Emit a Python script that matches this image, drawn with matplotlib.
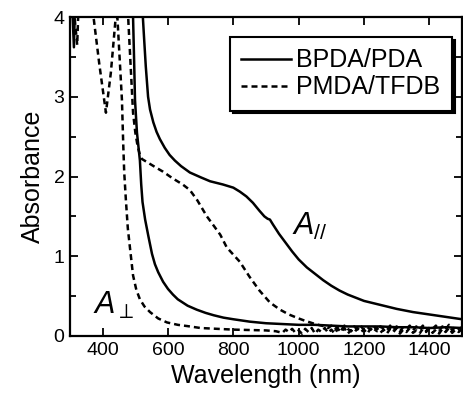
import matplotlib
matplotlib.use("Agg")
import matplotlib.pyplot as plt
from matplotlib.ticker import MultipleLocator

plt.rcParams['font.family'] = ['Liberation Sans', 'DejaVu Sans']
plt.rcParams['mathtext.fontset'] = 'custom'
plt.rcParams['mathtext.rm'] = 'Liberation Sans'
plt.rcParams['mathtext.it'] = 'Liberation Sans:italic'

# ---- data ----
# BPDA/PDA, parallel (solid, upper)
bp_par_wl = [300, 306, 312, 318, 500, 523, 527, 532, 539, 545, 555, 565, 575, 590, 605, 621, 640,
             667, 700, 729, 768, 800, 820, 840, 860, 880, 895, 905, 912, 921, 940, 960, 980, 1000,
             1025, 1050, 1075, 1100, 1125, 1150, 1175, 1200, 1250, 1300, 1350, 1400, 1450, 1500]
bp_par_abs = [4.6, 4.2, 3.62, 4.6, 4.6, 4.0, 3.72, 3.38, 3.0, 2.84, 2.68, 2.56, 2.47, 2.36, 2.27, 2.2, 2.13,
              2.05, 1.99, 1.94, 1.9, 1.86, 1.81, 1.75, 1.67, 1.57, 1.5, 1.47, 1.46, 1.4, 1.28, 1.17, 1.06, 0.96,
              0.86, 0.78, 0.7, 0.63, 0.57, 0.52, 0.48, 0.44, 0.39, 0.34, 0.3, 0.27, 0.24, 0.21]

# BPDA/PDA, perpendicular (solid, lower)
bp_perp_wl = [300, 480, 493, 496, 499, 505, 514, 518, 522, 530, 540, 551, 560, 570, 585, 600, 615,
              630, 645, 660, 688, 715, 740, 770, 800, 850, 900, 950, 1000, 1050, 1100, 1150, 1200,
              1250, 1300, 1350, 1400, 1450, 1500]
bp_perp_abs = [4.6, 4.6, 4.0, 3.5, 2.96, 2.55, 2.2, 1.9, 1.68, 1.46, 1.25, 1.03, 0.9, 0.8, 0.68, 0.59, 0.52,
               0.46, 0.42, 0.38, 0.33, 0.29, 0.26, 0.23, 0.21, 0.18, 0.16, 0.15, 0.14, 0.14, 0.13, 0.12, 0.12,
               0.12, 0.11, 0.11, 0.1, 0.11, 0.1]

# PMDA/TFDB, parallel (dashed, upper)
pm_par_wl = [300, 314, 322, 330, 470, 478, 493, 500, 507, 514, 520, 540, 560, 585, 606, 625, 645,
             667, 690, 719, 737, 760, 780, 800, 820, 850, 880, 912, 943, 970, 1000, 1020, 1043, 1060,
             1080, 1090, 1100, 1110, 1120, 1130, 1140, 1150, 1160, 1170, 1180, 1190, 1200, 1210,
             1220, 1230, 1240, 1250, 1260, 1270, 1280, 1290, 1300, 1310, 1320, 1330, 1340, 1350,
             1360, 1370, 1380, 1390, 1400, 1410, 1420, 1430, 1440, 1450, 1460, 1470, 1480, 1490,
             1500]
pm_par_abs = [4.6, 4.0, 3.65, 4.6, 4.6, 4.0, 2.8, 2.55, 2.38, 2.27, 2.22, 2.17, 2.12, 2.06, 2.0, 1.95, 1.9,
              1.83, 1.7, 1.5, 1.4, 1.27, 1.11, 1.02, 0.93, 0.74, 0.57, 0.42, 0.33, 0.27, 0.22, 0.19, 0.16, 0.14,
              0.12, 0.1, 0.13, 0.08, 0.12, 0.07, 0.13, 0.09, 0.06, 0.12, 0.08, 0.13, 0.07, 0.11,
              0.08, 0.13, 0.06, 0.12, 0.09, 0.07, 0.13, 0.08, 0.12, 0.06, 0.11, 0.09, 0.13, 0.07,
              0.12, 0.08, 0.13, 0.06, 0.11, 0.09, 0.13, 0.07, 0.12, 0.08, 0.14, 0.07, 0.12, 0.09,
              0.11]

# PMDA/TFDB, perpendicular (dashed, lower)
pm_perp_wl = [300, 360, 372, 390, 410, 425, 440, 445, 459, 463, 466, 471, 477, 484, 493, 503, 514,
              528, 545, 570, 597, 630, 658, 700, 750, 800, 850, 900, 930, 950, 960, 970, 980, 990,
              1000, 1010, 1020, 1030, 1040, 1050, 1060, 1070, 1080, 1090, 1100, 1110, 1120, 1130,
              1140, 1150, 1160, 1170, 1180, 1190, 1200, 1210, 1220, 1230, 1240, 1250, 1260, 1270,
              1280, 1290, 1300, 1310, 1320, 1330, 1340, 1350, 1360, 1370, 1380, 1390, 1400, 1410,
              1420, 1430, 1440, 1450, 1460, 1470, 1480, 1490, 1500]
pm_perp_abs = [4.6, 4.6, 4.0, 3.4, 2.8, 3.3, 4.0, 4.0, 2.96, 2.4, 2.05, 1.71, 1.35, 1.09, 0.76, 0.58, 0.46,
               0.37, 0.3, 0.22, 0.17, 0.14, 0.125, 0.1, 0.09, 0.08, 0.075, 0.07, 0.06, 0.04, 0.08, 0.05, 0.09,
               0.04, 0.07, 0.03, 0.09, 0.05, 0.1, 0.03, 0.08, 0.05, 0.1, 0.04, 0.08, 0.03, 0.09, 0.05,
               0.1, 0.03, 0.07, 0.04, 0.1, 0.05, 0.08, 0.03, 0.09, 0.05, 0.1, 0.04, 0.08, 0.03,
               0.09, 0.05, 0.1, 0.03, 0.08, 0.05, 0.1, 0.04, 0.07, 0.03, 0.09, 0.05, 0.1, 0.04,
               0.08, 0.03, 0.09, 0.05, 0.1, 0.04, 0.08, 0.05, 0.09]

series_labels = ["BPDA/PDA", "PMDA/TFDB"]
x_ticks = [400, 600, 800, 1000, 1200, 1400]
y_ticks = [0, 1, 2, 3, 4]

# ---- figure ----
fig = plt.figure(figsize=(4.63, 3.95), dpi=100)
ax = fig.add_axes([70/463, 1-336/395, 392/463, 319/395])

lw = 1.8
dash = (2.4, 1.6)
l1, = ax.plot(bp_par_wl, bp_par_abs, color='black', lw=lw, label=series_labels[0])
ax.plot(bp_perp_wl, bp_perp_abs, color='black', lw=lw)
l2, = ax.plot(pm_par_wl, pm_par_abs, color='black', lw=lw, linestyle=(0, dash), label=series_labels[1])
ax.plot(pm_perp_wl, pm_perp_abs, color='black', lw=lw, linestyle=(0, dash))

ax.set_xlim(300, 1500)
ax.set_ylim(0, 4)
ax.set_xticks(x_ticks)
ax.set_yticks(y_ticks)
ax.yaxis.set_minor_locator(MultipleLocator(0.5))
ax.tick_params(which='both', direction='in', top=True, right=True, width=1.3)
ax.tick_params(which='major', length=6, labelsize=14, pad=4)
ax.tick_params(which='minor', length=4)
for s in ax.spines.values():
    s.set_linewidth(1.6)

ax.set_xlabel("Wavelength (nm)", fontsize=18, labelpad=4)
ax.set_ylabel("Absorbance", fontsize=18, labelpad=6)

ax.text(370, 0.28, r"$A_{\perp}$", fontsize=22)
ax.text(980, 1.27, r"$A_{//}$", fontsize=22)

leg = ax.legend(handles=[l1, l2], loc='upper right', bbox_to_anchor=(0.974, 0.937),
                borderaxespad=0, fontsize=18, handlelength=2.0, handletextpad=0.2,
                labelspacing=0.12, borderpad=0.45, fancybox=False, framealpha=1,
                edgecolor='black', shadow={'color': 'black', 'alpha': 1, 'ox': 2, 'oy': -2})
leg.get_frame().set_linewidth(1.5)

fig.savefig("out.png", dpi=100)
